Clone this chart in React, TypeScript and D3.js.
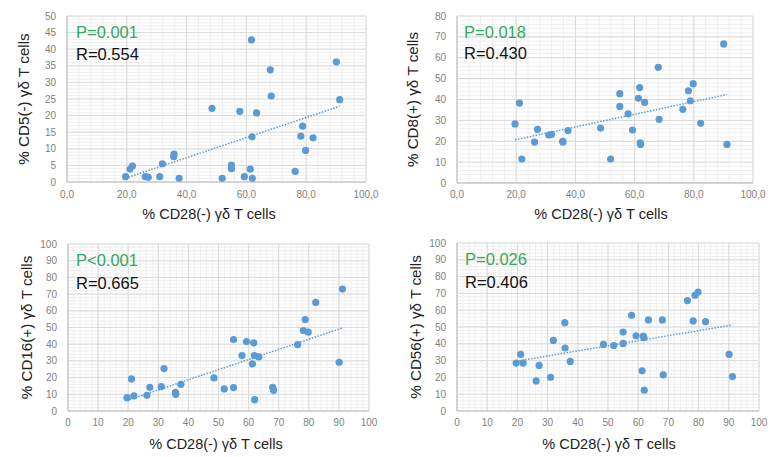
import React from 'react';
import * as d3 from 'd3';

// % CD28(-) γδ T cells (shared x for all four panels)
const cd28Neg = [19.6, 21.1, 21.9, 26.2, 27.2, 31.0, 31.9, 35.7, 35.8, 37.5, 48.5, 51.9, 55.0, 55.0, 57.8, 59.3, 61.3, 61.7, 61.9, 62.0, 63.4, 68.0, 68.3, 76.3, 78.2, 78.8, 79.8, 82.3, 90.1, 91.2];
const cd5Neg = [1.6, 3.9, 4.8, 1.6, 1.4, 1.6, 5.5, 7.7, 8.4, 1.1, 22.2, 1.1, 5.1, 4.0, 21.3, 1.6, 3.9, 42.8, 13.6, 1.1, 20.8, 33.8, 25.9, 3.2, 13.8, 16.8, 9.5, 13.3, 36.2, 24.8];
const cd8Pos = [28.3, 38.3, 11.5, 19.6, 25.7, 23.0, 23.3, 20.0, 19.6, 25.1, 26.3, 11.5, 42.8, 36.7, 33.1, 25.4, 40.6, 45.7, 19.2, 18.5, 38.6, 55.4, 30.5, 35.3, 44.2, 39.4, 47.6, 28.6, 66.6, 18.5];
const cd16Pos = [8.0, 19.2, 9.0, 9.4, 14.2, 14.6, 25.4, 11.2, 10.0, 16.0, 19.8, 13.2, 42.8, 14.0, 33.2, 41.6, 28.2, 40.8, 33.2, 6.8, 32.4, 14.2, 12.4, 39.8, 48.2, 54.8, 47.2, 65.0, 29.2, 73.0];
const cd56Pos = [28.5, 33.7, 28.5, 17.9, 27.1, 20.1, 42.0, 52.6, 37.5, 29.5, 39.6, 39.0, 47.0, 40.2, 57.0, 44.8, 23.9, 44.6, 43.6, 12.4, 54.2, 54.2, 21.5, 65.7, 53.6, 68.9, 70.7, 53.2, 33.7, 20.5];

const yLabels = ['% CD5(-) γδ T cells', '% CD8(+) γδ T cells', '% CD16(+) γδ T cells', '% CD56(+) γδ T cells'];
const xLabel = '% CD28(-) γδ T cells';
const pTexts = ['P=0.001', 'P=0.018', 'P<0.001', 'P=0.026'];
const rTexts = ['R=0.554', 'R=0.430', 'R=0.665', 'R=0.406'];
const yMaxes = [50, 80, 100, 100];
const yMajors = [5, 10, 10, 10];
const xMajors = [20, 20, 10, 10];
const ySeries = [cd5Neg, cd8Pos, cd16Pos, cd56Pos];

const layouts = [
  { l: 67, r: 366, t: 16, b: 182, titleX: 209, titleY: 219, yTitleX: 29, tickY: 198, textX: 76, pY: 38, rY: 60 },
  { l: 457, r: 753, t: 16, b: 183, titleX: 601, titleY: 219, yTitleX: 418, tickY: 198, textX: 464, pY: 38, rY: 59 },
  { l: 68, r: 369, t: 244, b: 411, titleX: 216, titleY: 449, yTitleX: 32, tickY: 426, textX: 76, pY: 266, rY: 289 },
  { l: 457, r: 759, t: 243, b: 411, titleX: 609, titleY: 449, yTitleX: 421, tickY: 426, textX: 465, pY: 265, rY: 288 },
];

const BLUE = '#5b9bd5';
const FONT = '"Liberation Sans", Arial, sans-serif';
const NARROW = '"Liberation Sans Narrow", "Arial Narrow", "Liberation Sans", Arial, sans-serif';

function Panel({ idx }: { idx: number }) {
  const L = layouts[idx];
  const ys = ySeries[idx];
  const x = d3.scaleLinear().domain([0, 100]).range([L.l, L.r]);
  const y = d3.scaleLinear().domain([0, yMaxes[idx]]).range([L.b, L.t]);
  const xMaj = xMajors[idx];
  const yMaj = yMajors[idx];
  const xMinor = d3.range(0, 100 + 1e-9, xMaj / 5);
  const yMinor = d3.range(0, yMaxes[idx] + 1e-9, yMaj / 5);
  const xTicks = d3.range(0, 100 + 1e-9, xMaj);
  const yTicks = d3.range(0, yMaxes[idx] + 1e-9, yMaj);
  const xFmt = idx < 2 ? (d: number) => d.toFixed(1).replace('.', ',') : (d: number) => String(d);

  // least-squares trendline
  const n = cd28Neg.length;
  const mx = d3.mean(cd28Neg)!;
  const my = d3.mean(ys)!;
  let sxy = 0, sxx = 0;
  for (let i = 0; i < n; i++) {
    sxy += (cd28Neg[i] - mx) * (ys[i] - my);
    sxx += (cd28Neg[i] - mx) ** 2;
  }
  const slope = sxy / sxx;
  const icpt = my - slope * mx;
  const x0 = d3.min(cd28Neg)!;
  const x1 = d3.max(cd28Neg)!;
  const line = d3.line<number>().x(d => x(d)).y(d => y(icpt + slope * d));

  const cy = (L.t + L.b) / 2;
  return (
    <g>
      {xMinor.map((d, i) => (
        <line key={'xm' + i} x1={x(d)} x2={x(d)} y1={L.t} y2={L.b} stroke="#efefef" strokeWidth={1} />
      ))}
      {yMinor.map((d, i) => (
        <line key={'ym' + i} x1={L.l} x2={L.r} y1={y(d)} y2={y(d)} stroke="#efefef" strokeWidth={1} />
      ))}
      {xTicks.map((d, i) => (
        <line key={'xM' + i} x1={x(d)} x2={x(d)} y1={L.t} y2={L.b} stroke="#d9d9d9" strokeWidth={1} />
      ))}
      {yTicks.map((d, i) => (
        <line key={'yM' + i} x1={L.l} x2={L.r} y1={y(d)} y2={y(d)} stroke="#d9d9d9" strokeWidth={1} />
      ))}
      <line x1={L.l} x2={L.r} y1={L.b} y2={L.b} stroke="#bfbfbf" strokeWidth={1} />
      <line x1={L.l} x2={L.l} y1={L.t} y2={L.b} stroke="#bfbfbf" strokeWidth={1} />
      {yTicks.map((d, i) => (
        <text key={'yt' + i} x={L.l - 11} y={y(d) + 3.5} textAnchor="end" fontSize={10} fontFamily={NARROW} fill="#7f7f7f">
          {d}
        </text>
      ))}
      {xTicks.map((d, i) => (
        <text key={'xt' + i} x={x(d)} y={L.tickY} textAnchor="middle" fontSize={10} fontFamily={NARROW} fill="#7f7f7f">
          {xFmt(d)}
        </text>
      ))}
      <path d={line([x0, x1]) || ''} stroke={BLUE} strokeWidth={1.5} strokeDasharray="1.5 1.5" fill="none" />
      {cd28Neg.map((d, i) => (
        <circle key={'p' + i} cx={x(d)} cy={y(ys[i])} r={3.6} fill={BLUE} />
      ))}
      <text x={L.textX} y={L.pY} fontSize={16.5} fontFamily={FONT} fill="#33a95b">{pTexts[idx]}</text>
      <text x={L.textX} y={L.rY} fontSize={16.5} fontFamily={FONT} fill="#111">{rTexts[idx]}</text>
      <text x={L.titleX} y={L.titleY} textAnchor="middle" fontSize={14.5} fontFamily={FONT} fill="#222">{xLabel}</text>
      <text transform={`translate(${L.yTitleX},${cy}) rotate(-90)`} textAnchor="middle" fontSize={15.2} fontFamily={FONT} fill="#222">
        {yLabels[idx]}
      </text>
    </g>
  );
}

export default function App() {
  return (
    <svg width={774} height={457} style={{ position: 'absolute', left: 0, top: 0, background: '#fff' }}>
      <rect width={774} height={457} fill="#fff" />
      {[0, 1, 2, 3].map(i => <Panel key={i} idx={i} />)}
    </svg>
  );
}
